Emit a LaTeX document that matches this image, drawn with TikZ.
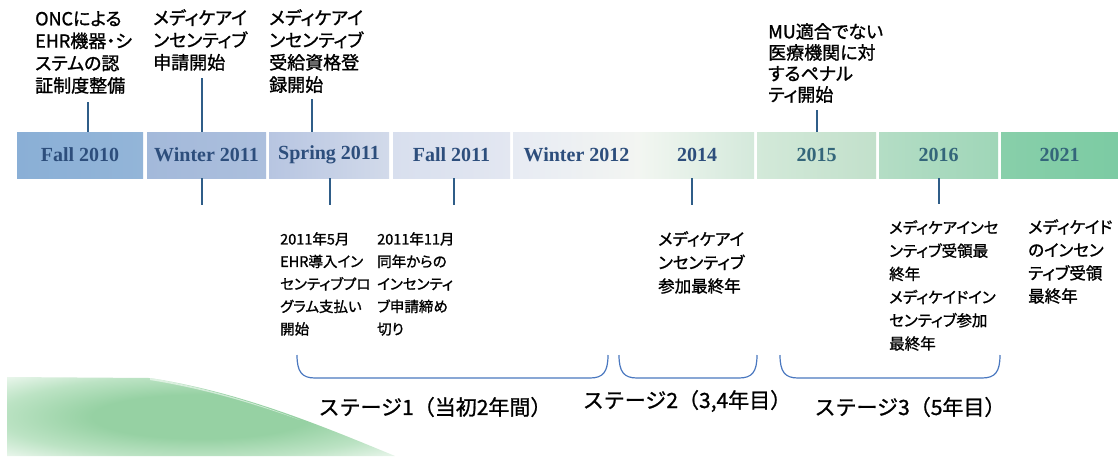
\documentclass[tikz,border=0pt]{standalone}
\usepackage{fontspec}
\setmainfont{Liberation Serif}
\newfontfamily\jp[RawFeature=+palt, FakeBold=1.2]{Noto Sans CJK JP}
\newfontfamily\jpw[FakeBold=1.0]{Noto Sans CJK JP}
\definecolor{tickc}{HTML}{2F5D88}
\definecolor{bluetxt}{HTML}{2D4E7C}
\definecolor{greentxt}{HTML}{34667A}
\definecolor{bracec}{HTML}{4A78C0}
\definecolor{swgreen}{RGB}{150,209,163}
\definecolor{swmid}{RGB}{188,227,196}
\definecolor{swlight}{RGB}{236,247,238}
\pgfdeclareradialshading{swooshshade}{\pgfpoint{0bp}{0bp}}{color(0bp)=(swgreen); color(14bp)=(swgreen); color(26bp)=(swmid); color(36bp)=(swlight); color(50bp)=(white)}
\tikzset{
  yearbox/.style={minimum height=46pt, inner sep=0pt, font=\bfseries\fontsize{20}{20}\selectfont, text=bluetxt},
  tickline/.style={draw=tickc, line width=2.6pt},
  toplabel/.style={anchor=north west, inner sep=0pt, align=left, font=\jp\fontsize{18}{22.3}\selectfont},
  botlabel/.style={anchor=north west, inner sep=0pt, align=left, font=\jp\fontsize{14.5}{22.5}\selectfont},
  stagelabel/.style={inner sep=0pt, font=\jpw\fontsize{21}{24}\selectfont},
  bracel/.style={draw=bracec, line width=1.2pt},
}
\begin{document}
\begin{tikzpicture}[x=1pt,y=-1pt]
\useasboundingbox (0,0) rectangle (1118,456);
\fill[white] (0,0) rectangle (1118,456);

% swoosh
\shade[shading=swooshshade]
  (7,377) -- (150,378) .. controls (240,392) and (320,425) .. (395,456) -- (7,456) -- cycle;
\fill[white, opacity=0.55] (150,378) .. controls (200,386) and (260,404) .. (300,420) .. controls (250,402) and (200,388) .. (150,380) -- cycle;

% year boxes
\node[yearbox, minimum width=126pt, left color={rgb,255:red,138;green,175;blue,214}, right color={rgb,255:red,147;green,181;blue,216}] (b1) at (80,155) {Fall 2010};
\node[yearbox, minimum width=119pt, left color={rgb,255:red,163;green,185;blue,218}, right color={rgb,255:red,172;green,191;blue,221}] (b2) at (206.5,155) {Winter 2011};
\node[yearbox, minimum width=120pt, left color={rgb,255:red,183;green,197;blue,225}, right color={rgb,255:red,210;green,218;blue,234}] (b3) at (329,155) {Spring 2011};
\node[yearbox, minimum width=117pt, left color={rgb,255:red,216;green,223;blue,238}, right color={rgb,255:red,227;green,231;blue,241}] (b4) at (451.5,155) {Fall 2011};
\node[yearbox, minimum width=127pt, left color={rgb,255:red,231;green,235;blue,243}, right color={rgb,255:red,243;green,245;blue,242}] (b5) at (576.5,155) {Winter 2012};
\node[yearbox, minimum width=114pt, left color={rgb,255:red,242;green,246;blue,241}, right color={rgb,255:red,212;green,233;blue,219}] (b6) at (697,155) {2014};
\node[yearbox, minimum width=119pt, text=greentxt, left color={rgb,255:red,211;green,233;blue,217}, right color={rgb,255:red,194;green,224;blue,203}] (b7) at (816.5,155) {2015};
\node[yearbox, minimum width=119pt, text=greentxt, left color={rgb,255:red,180;green,221;blue,197}, right color={rgb,255:red,159;green,214;blue,184}] (b8) at (938.5,155) {2016};
\node[yearbox, minimum width=117pt, text=greentxt, left color={rgb,255:red,136;green,207;blue,170}, right color={rgb,255:red,124;green,203;blue,163}] (b9) at (1059.5,155) {2021};

% top labels
\node[toplabel] (l1) at (35,11) {ONCによる\\EHR機器・シ\\ステムの認\\証制度整備};
\node[toplabel] (l2) at (153,9) {メディケアイ\\ンセンティブ\\申請開始};
\node[toplabel] (l3) at (269,9) {メディケアイ\\ンセンティブ\\受給資格登\\録開始};
\node[toplabel, font=\jp\fontsize{18}{21}\selectfont] (l4) at (768,23) {MU適合でない\\医療機関に対\\するペナル\\ティ開始};

% bottom labels
\node[botlabel] (d1) at (280,232) {2011年5月\\EHR導入イン\\センティブプロ\\グラム支払い\\開始};
\node[botlabel] (d2) at (377,232) {2011年11月\\同年からの\\インセンティ\\ブ申請締め\\切り};
\node[botlabel, font=\jp\fontsize{16.5}{23.5}\selectfont] (d3) at (658,231) {メディケアイ\\ンセンティブ\\参加最終年};
\node[botlabel, font=\jp\fontsize{15.5}{23.2}\selectfont] (d4) at (889,220) {メディケアインセ\\ンティブ受領最\\終年\\メディケイドイン\\センティブ参加\\最終年};
\node[botlabel, font=\jp\fontsize{16.5}{23}\selectfont] (d5) at (1028,219) {メディケイド\\のインセン\\ティブ受領\\最終年};

% ticks
\coordinate (k1) at (88,102);
\coordinate (k2) at (202,78);
\coordinate (k3) at (312,99);
\coordinate (k4) at (817,110);
\coordinate (m2) at (202,205);
\coordinate (m3) at (330,205);
\coordinate (m4) at (454,205);
\coordinate (m5) at (692,205);
\coordinate (m6) at (939,204);
\draw[tickline] (k1) -- (k1 |- b1.north);
\draw[tickline] (k2) -- (k2 |- b2.north);
\draw[tickline] (k3) -- (k3 |- b3.north);
\draw[tickline] (k4) -- (k4 |- b7.north);
\draw[tickline] (m2 |- b2.south) -- (m2);
\draw[tickline] (m3 |- b3.south) -- (m3);
\draw[tickline] (m4 |- b4.south) -- (m4);
\draw[tickline] (m5 |- b6.south) -- (m5);
\draw[tickline] (m6 |- b8.south) -- (m6);

% braces
\draw[bracel] (297,355) .. controls (297,372) and (302,378) .. (315,378) -- (590,378) .. controls (603,378) and (608,372) .. (608,355);
\draw[bracel] (619,355) .. controls (619,372) and (624,378) .. (637,378) -- (739,378) .. controls (752,378) and (757,372) .. (757,355);
\draw[bracel] (780,355) .. controls (780,372) and (785,378) .. (798,378) -- (982,378) .. controls (995,378) and (1000,372) .. (1000,355);

% stage labels
\node[stagelabel] (s1) at (435,407) {ステージ1（当初2年間）};
\node[stagelabel] (s2) at (687,401) {ステージ2（3,4年目）};
\node[stagelabel] (s3) at (910,407) {ステージ3（5年目）};
\end{tikzpicture}
\end{document}
